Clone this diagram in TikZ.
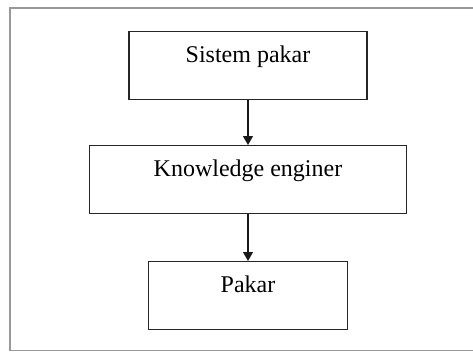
\documentclass[tikz,border=0pt]{standalone}
\usepackage{fontspec}
\setmainfont{Liberation Serif}
\usetikzlibrary{arrows.meta}

\tikzset{
  stagebox/.style={draw=black!85, line width=1.4pt, inner sep=0pt, anchor=north,
    text height=31pt, text depth=37pt, font=\fontsize{24}{28}\selectfont},
  flowarrow/.style={draw=black!90, line width=1.3pt, -{Triangle[length=9pt,width=10pt]}}
}

\begin{document}
\begin{tikzpicture}[x=1pt, y=-1pt]
\useasboundingbox (0,0) rectangle (473,353);
\clip (0,0) rectangle (473,353);

% frame
\draw[gray!80, line width=1.2pt] (10,8) rectangle (490,350.5);

% boxes
\node[stagebox, minimum width=238pt] (sistem) at (248,31) {Sistem pakar};
\node[stagebox, minimum width=317pt] (engineer) at (248,145) {Knowledge enginer};
\node[stagebox, minimum width=199pt] (pakar) at (248,261) {Pakar};

% arrows
\draw[flowarrow] (sistem.south) -- (engineer.north);
\draw[flowarrow] (engineer.south) -- (pakar.north);

\end{tikzpicture}
\end{document}
